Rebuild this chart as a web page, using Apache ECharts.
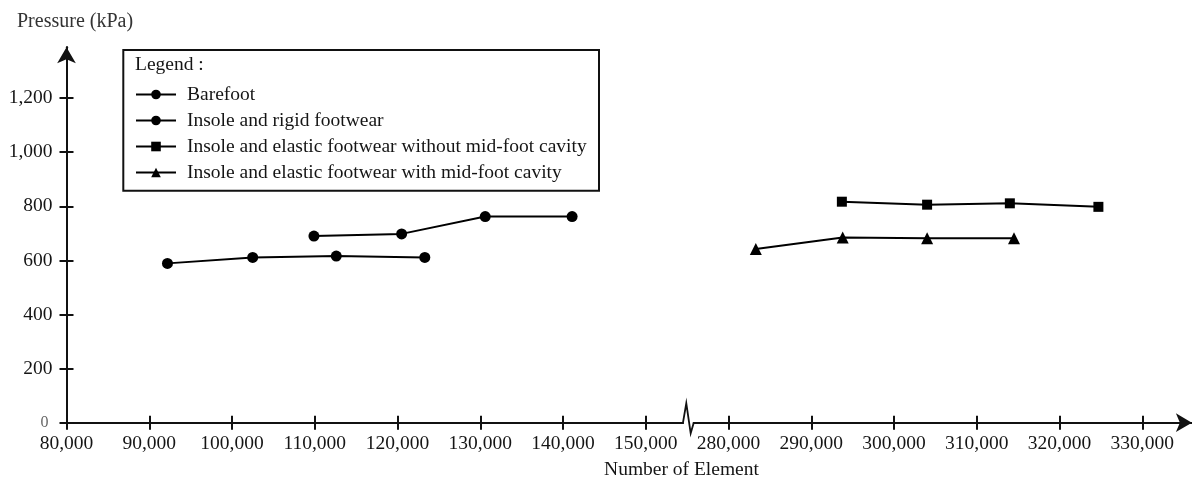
<!DOCTYPE html>
<html><head><meta charset="utf-8">
<script src="https://cdn.jsdelivr.net/npm/echarts@6/dist/echarts.min.js"></script>
<style>html,body{margin:0;padding:0;background:#fff}#c{width:1192px;height:481px}</style>
</head><body><div id="c"></div><script>
// ---- data ----
const seriesNames = ['Barefoot', 'Insole and rigid footwear', 'Insole and elastic footwear without mid-foot cavity', 'Insole and elastic footwear with mid-foot cavity'];
const barefootX = [92200, 102500, 112600, 123300];
const barefootY = [589, 611, 616, 611];
const rigidX = [109900, 120500, 130600, 141100];
const rigidY = [690, 698, 762, 762];
const noCavityX = [293700, 304000, 314000, 324700];
const noCavityY = [817, 806, 811, 798];
const cavityX = [283300, 293800, 304000, 314500];
const cavityY = [642, 685, 682, 682];
const xTicksLeft = [80000, 90000, 100000, 110000, 120000, 130000, 140000, 150000];
const xTicksRight = [280000, 290000, 300000, 310000, 320000, 330000];
const yTicks = [0, 200, 400, 600, 800, 1000, 1200];
const xAxisTitle = 'Number of Element';
const yAxisTitle = 'Pressure (kPa)';
const legendTitle = 'Legend :';

// ---- layout ----
const FONT = "'Liberation Serif','Times New Roman',serif";
const TXT = '#151515';
const S = 0.008275;          // px per x unit
const X0 = 66.5, Y0 = 422.7; // origin
const YS = 0.2705;           // px per y unit
const leftMin = 80000, leftMax = 154500, rightMin = 275800, rightMax = 336000, yMax = 1388;
const leftW = (leftMax - leftMin) * S;
const rightL = X0 + (rightMin - 200000) * S;
const rightW = (rightMax - rightMin) * S;
const gTop = Y0 - yMax * YS, gBottom = 481 - Y0;

const zip = (a, b) => a.map((v, i) => [v, b[i]]);
const fmt = v => v.toLocaleString('en-US');
const lineS = { color: '#111', width: 2 };

function xAx(grid, min, max, ticks, inside, arrow) {
  return {
    type: 'value', gridIndex: grid, min, max, position: 'bottom',
    axisLine: { show: true, onZero: false, lineStyle: lineS,
      symbol: arrow ? ['none', 'arrow'] : ['none', 'none'], symbolSize: [14, 16] },
    axisTick: { show: true, inside, length: 7, customValues: ticks, lineStyle: { color: '#111', width: 2 } },
    axisLabel: { show: !inside, customValues: ticks, formatter: fmt, margin: 11,
      fontFamily: FONT, fontSize: 19.5, color: TXT },
    splitLine: { show: false }
  };
}
function yAx(grid, inside, arrow, show) {
  return {
    type: 'value', gridIndex: grid, min: 0, max: yMax, position: 'left', show,
    axisLine: { show: true, onZero: false, lineStyle: lineS,
      symbol: arrow ? ['none', 'arrow'] : ['none', 'none'], symbolSize: [14, 16] },
    axisTick: { show: true, inside, length: 7, customValues: yTicks, lineStyle: { color: '#111', width: 2 } },
    axisLabel: { show: !inside, customValues: yTicks, margin: 14,
      formatter: v => v === 0 ? '{z|0}' : fmt(v),
      fontFamily: FONT, fontSize: 19.5, color: TXT,
      rich: { z: { fontFamily: FONT, fontSize: 16, color: '#666', padding: [0, 4, 0, 0] } } },
    splitLine: { show: false }
  };
}
function ser(i, xs, ys, xi, yi, symbol, size) {
  return {
    name: seriesNames[i], type: 'line', xAxisIndex: xi, yAxisIndex: yi,
    data: zip(xs, ys), symbol, symbolSize: size, z: 3,
    lineStyle: { color: '#000', width: 2 }, itemStyle: { color: '#000' },
    emphasis: { disabled: true }
  };
}

const chart = echarts.init(document.getElementById('c'), null, { renderer: 'canvas' });
chart.setOption({
  animation: false,
  backgroundColor: '#fff',
  grid: [
    { left: X0, top: gTop, width: leftW, bottom: gBottom },
    { left: rightL, top: gTop, width: rightW, bottom: gBottom }
  ],
  xAxis: [
    xAx(0, leftMin, leftMax, xTicksLeft, false, false),
    xAx(0, leftMin, leftMax, xTicksLeft, true, false),
    xAx(1, rightMin, rightMax, xTicksRight, false, true),
    xAx(1, rightMin, rightMax, xTicksRight, true, false)
  ],
  yAxis: [yAx(0, false, true, true), yAx(0, true, false, true), yAx(1, false, false, false)],
  legend: {
    data: seriesNames, orient: 'vertical', left: 135, top: 84.5, padding: 0,
    itemWidth: 40, itemHeight: 12, itemGap: 6, selectedMode: false,
    textStyle: { fontFamily: FONT, fontSize: 19.5, color: TXT, padding: [0, 0, 0, 6] }
  },
  series: [
    ser(0, barefootX, barefootY, 0, 0, 'circle', 11),
    ser(1, rigidX, rigidY, 0, 0, 'circle', 11),
    ser(2, noCavityX, noCavityY, 2, 2, 'rect', 10),
    ser(3, cavityX, cavityY, 2, 2, 'triangle', 12)
  ]
});

// zigzag break + texts
const pL = chart.convertToPixel({ xAxisIndex: 0, yAxisIndex: 0 }, [leftMax, 0]);
const pR = chart.convertToPixel({ xAxisIndex: 2, yAxisIndex: 2 }, [rightMin, 0]);
const yb = pL[1];
chart.setOption({
  graphic: [
    { type: 'rect', z: 0, shape: { x: 123.3, y: 50, width: 475.7, height: 140.7 },
      style: { fill: 'rgba(0,0,0,0)', stroke: '#111', lineWidth: 2 } },
    { type: 'text', z: 5, x: 135, y: 65, style: { text: legendTitle, font: '19.5px ' + FONT, fill: TXT, verticalAlign: 'middle' } },
    { type: 'text', z: 5, x: 17, y: 21.7, style: { text: yAxisTitle, font: '20px ' + FONT, fill: '#333', verticalAlign: 'middle' } },
    { type: 'text', z: 5, x: 681.5, y: 470, style: { text: xAxisTitle, font: '19.5px ' + FONT, fill: TXT, align: 'center', verticalAlign: 'middle' } },
    { type: 'polyline', z: 5, shape: { points: [[pL[0], yb], [pL[0] + 3.3, yb - 19.4], [pL[0] + 7.7, yb + 10.6], [pR[0], yb]] },
      style: { stroke: '#111', lineWidth: 1.8, fill: null } }
  ]
});
</script></body></html>
